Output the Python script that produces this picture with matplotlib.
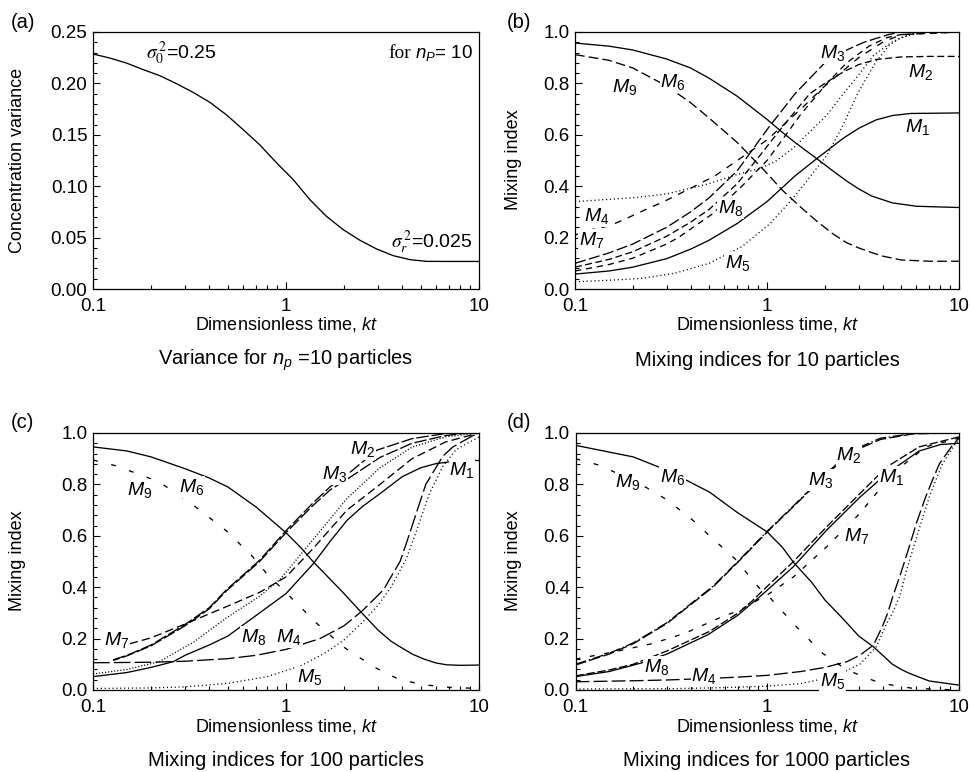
import matplotlib
matplotlib.use("Agg")
import matplotlib.pyplot as plt
from matplotlib.ticker import FixedLocator, MultipleLocator, FuncFormatter, LogLocator, NullFormatter

plt.rcParams['font.family'] = ['Liberation Sans', 'DejaVu Sans']
plt.rcParams['mathtext.fontset'] = 'custom'
plt.rcParams['mathtext.rm'] = 'Liberation Sans'
plt.rcParams['mathtext.it'] = 'Liberation Sans:italic'
plt.rcParams['mathtext.bf'] = 'Liberation Sans:bold'
plt.rcParams['lines.scale_dashes'] = False

# ---------------- data ----------------
# panel (a): concentration variance, n_P = 10
a_x = [0.1, 0.122, 0.149, 0.182, 0.222, 0.271, 0.33, 0.403, 0.49, 0.6, 0.73, 0.895, 1.09,
       1.33, 1.62, 1.98, 2.42, 2.95, 3.6, 4.4, 5.36, 7.0, 10.0]
a_var = [0.2286, 0.2247, 0.2198, 0.2134, 0.2075, 0.1997, 0.1913, 0.1816, 0.1696, 0.155,
         0.1404, 0.1226, 0.1064, 0.0869, 0.0707, 0.0577, 0.0473, 0.0389, 0.0324, 0.0285,
         0.0269, 0.0268, 0.0268]

# panel (b): 10 particles
b_M1_x = [0.1, 0.15, 0.2, 0.3, 0.4, 0.5, 0.7, 1.0, 1.4, 1.8, 2.2, 2.5, 3.0, 3.7, 4.5, 5.6, 10]
b_M1_y = [0.058, 0.070, 0.085, 0.118, 0.155, 0.19, 0.255, 0.34, 0.44, 0.505, 0.555, 0.587,
          0.625, 0.658, 0.675, 0.683, 0.685]
b_M2_x = [0.1, 0.15, 0.2, 0.3, 0.4, 0.5, 0.7, 0.92, 1.2, 1.67, 2.0, 2.5, 3.0, 3.7, 5, 7, 10]
b_M2_y = [0.085, 0.115, 0.145, 0.205, 0.26, 0.31, 0.41, 0.52, 0.63, 0.76, 0.80, 0.845, 0.873,
          0.893, 0.903, 0.905, 0.905]
b_M3_x = [0.1, 0.15, 0.2, 0.3, 0.4, 0.5, 0.7, 1.0, 1.4, 2.0, 2.6, 3.2, 3.7, 4.3, 5, 7, 10]
b_M3_y = [0.10, 0.14, 0.175, 0.24, 0.30, 0.355, 0.46, 0.62, 0.76, 0.88, 0.93, 0.96, 0.975,
          0.99, 1.0, 1.0, 1.0]
b_M4_x = [0.1, 0.2, 0.3, 0.42, 0.5, 0.68, 0.92, 1.1, 1.37, 2.05, 2.5, 3.0, 3.6, 4.5, 5.5, 6.5, 10]
b_M4_y = [0.34, 0.355, 0.37, 0.396, 0.41, 0.443, 0.47, 0.495, 0.548, 0.677, 0.76, 0.833, 0.91,
          0.962, 0.99, 1.0, 1.0]
b_M5_x = [0.1, 0.15, 0.22, 0.33, 0.5, 0.74, 1.04, 1.37, 2.05, 2.5, 3.0, 3.7, 4.3, 4.9, 6.5, 10]
b_M5_y = [0.028, 0.034, 0.041, 0.061, 0.10, 0.165, 0.255, 0.354, 0.52, 0.64, 0.768, 0.885,
          0.945, 0.977, 1.0, 1.0]
b_M6_x = [0.1, 0.15, 0.2, 0.3, 0.4, 0.5, 0.7, 1.0, 1.2, 1.4, 1.81, 2.2, 2.6, 3.0, 3.5, 4.5, 6.0, 10]
b_M6_y = [0.957, 0.945, 0.93, 0.895, 0.86, 0.82, 0.75, 0.66, 0.61, 0.57, 0.508, 0.46, 0.42,
          0.39, 0.362, 0.335, 0.322, 0.317]
b_M7_x = [0.1, 0.12, 0.15, 0.18, 0.23, 0.29, 0.42, 0.535, 0.7, 1.0, 1.5, 2.0, 3.0, 4.0, 5.0, 10]
b_M7_y = [0.21, 0.23, 0.245, 0.27, 0.307, 0.34, 0.40, 0.44, 0.50, 0.58, 0.70, 0.79, 0.90, 0.96,
          0.99, 1.0]
b_M8_x = [0.1, 0.15, 0.2, 0.3, 0.345, 0.515, 0.74, 1.0, 1.2, 1.5, 2.05, 2.6, 3.4, 4.2, 5, 10]
b_M8_y = [0.07, 0.095, 0.12, 0.175, 0.2, 0.29, 0.40, 0.50, 0.58, 0.68, 0.80, 0.88, 0.945, 0.978,
          0.99, 1.0]
b_M9_x = [0.1, 0.15, 0.2, 0.3, 0.4, 0.5, 0.7, 0.85, 1.0, 1.2, 1.5, 1.81, 2.2, 2.6, 3.0, 3.5,
          4.0, 5.0, 7.0, 10]
b_M9_y = [0.912, 0.89, 0.86, 0.79, 0.725, 0.665, 0.57, 0.505, 0.45, 0.385, 0.318, 0.265, 0.215,
          0.18, 0.16, 0.142, 0.128, 0.113, 0.108, 0.108]

# panel (c): 100 particles
c_M1_x = [0.1, 0.15, 0.2, 0.26, 0.3, 0.4, 0.5, 0.7, 1.0, 1.38, 1.7, 2.07, 2.5, 3.07, 4.0,
          5.0, 6.0, 8.0, 10]
c_M1_y = [0.052, 0.068, 0.088, 0.11, 0.135, 0.175, 0.21, 0.29, 0.375, 0.49, 0.58, 0.66, 0.715,
          0.764, 0.83, 0.865, 0.881, 0.893, 0.893]
c_M2_x = [0.127, 0.15, 0.2, 0.3, 0.4, 0.49, 0.73, 1.0, 1.38, 1.69, 2.17, 2.95, 4.5, 6.7, 10]
c_M2_y = [0.117, 0.135, 0.175, 0.255, 0.32, 0.389, 0.505, 0.62, 0.728, 0.79, 0.85, 0.933,
          0.978, 0.998, 1.0]
c_M3_x = [0.127, 0.15, 0.2, 0.3, 0.4, 0.49, 0.73, 1.0, 1.38, 1.69, 2.17, 3.07, 4.5, 6.7, 8.3, 10]
c_M3_y = [0.115, 0.133, 0.172, 0.25, 0.316, 0.385, 0.50, 0.612, 0.718, 0.778, 0.83, 0.905,
          0.96, 0.99, 0.998, 1.0]
c_M4_x = [0.1, 0.2, 0.3, 0.5, 0.7, 1.0, 1.5, 2.0, 2.5, 3.2, 3.5, 3.9, 4.2, 4.6, 5.3, 6.5,
          7.3, 9.3, 10]
c_M4_y = [0.106, 0.108, 0.112, 0.122, 0.135, 0.158, 0.2, 0.25, 0.31, 0.39, 0.44, 0.5, 0.57,
          0.66, 0.8, 0.91, 0.945, 0.99, 0.995]
c_M5_x = [0.1, 0.2, 0.3, 0.5, 0.8, 1.2, 1.6, 2.0, 2.5, 3.0, 3.5, 4.2, 4.8, 5.5, 6.5, 7.6, 10]
c_M5_y = [0.006, 0.008, 0.012, 0.026, 0.052, 0.095, 0.145, 0.195, 0.265, 0.33, 0.40, 0.51,
          0.63, 0.76, 0.87, 0.935, 0.985]
c_M6_x = [0.1, 0.15, 0.2, 0.3, 0.4, 0.5, 0.7, 1.0, 1.2, 1.38, 1.75, 2.0, 2.4, 3.0, 3.5, 3.9,
          4.5, 5.2, 6.0, 6.8, 8.0, 10]
c_M6_y = [0.946, 0.93, 0.907, 0.861, 0.825, 0.79, 0.712, 0.612, 0.552, 0.5, 0.42, 0.375, 0.31,
          0.233, 0.19, 0.168, 0.14, 0.12, 0.105, 0.098, 0.096, 0.097]
c_M7_x = [0.155, 0.2, 0.305, 0.49, 0.73, 1.0, 1.38, 2.07, 3.07, 4.5, 6.7, 10]
c_M7_y = [0.18, 0.203, 0.259, 0.324, 0.38, 0.44, 0.55, 0.70, 0.80, 0.90, 0.965, 1.0]
c_M8_x = [0.1, 0.15, 0.22, 0.33, 0.49, 0.73, 0.93, 1.38, 2.07, 3.07, 4.5, 6.7, 10]
c_M8_y = [0.062, 0.08, 0.11, 0.185, 0.28, 0.365, 0.43, 0.585, 0.745, 0.865, 0.945, 0.985, 1.0]
c_M9_x = [0.1, 0.132, 0.22, 0.33, 0.49, 0.67, 0.79, 1.05, 1.44, 1.98, 2.85, 3.9, 5.4, 7.0, 10]
c_M9_y = [0.895, 0.872, 0.81, 0.72, 0.62, 0.52, 0.455, 0.363, 0.26, 0.168, 0.09, 0.039, 0.019,
          0.01, 0.006]

# panel (d): 1000 particles
d_M1_x = [0.1, 0.15, 0.2, 0.3, 0.5, 0.7, 0.83, 0.915, 1.37, 2.04, 3.04, 4.2, 6.2, 10]
d_M1_y = [0.055, 0.078, 0.1, 0.152, 0.228, 0.298, 0.345, 0.376, 0.5, 0.635, 0.764, 0.868,
          0.946, 0.985]
d_M2_x = [0.1, 0.15, 0.2, 0.3, 0.52, 0.72, 1.0, 1.42, 2.05, 2.6, 3.04, 3.9, 5.8, 10]
d_M2_y = [0.1, 0.143, 0.183, 0.262, 0.403, 0.508, 0.618, 0.728, 0.846, 0.912, 0.945, 0.98,
          0.998, 1.0]
d_M3_x = [0.1, 0.15, 0.2, 0.3, 0.52, 0.72, 1.0, 1.42, 2.05, 2.6, 3.04, 3.9, 5.8, 10]
d_M3_y = [0.097, 0.14, 0.18, 0.259, 0.40, 0.505, 0.615, 0.725, 0.842, 0.907, 0.94, 0.975,
          0.997, 1.0]
d_M4_x = [0.1, 0.2, 0.3, 0.5, 0.7, 1.0, 1.5, 2.0, 2.6, 3.04, 3.58, 4.0, 4.25, 4.5, 5.0, 5.5,
          6.0, 6.7, 7.3, 7.9, 9.3, 10]
d_M4_y = [0.032, 0.036, 0.039, 0.045, 0.05, 0.057, 0.072, 0.088, 0.11, 0.135, 0.175, 0.25,
          0.30, 0.36, 0.46, 0.557, 0.65, 0.751, 0.82, 0.88, 0.955, 0.98]
d_M5_x = [0.1, 0.3, 0.5, 0.7, 1.0, 1.5, 2.0, 2.5, 3.04, 3.7, 4.2, 4.5, 4.9, 5.3, 5.8, 6.4,
          7.0, 7.6, 8.2, 9.6, 10]
d_M5_y = [0.004, 0.005, 0.008, 0.011, 0.015, 0.025, 0.045, 0.07, 0.10, 0.168, 0.26, 0.30,
          0.363, 0.46, 0.557, 0.66, 0.751, 0.82, 0.88, 0.96, 0.97]
d_M6_x = [0.1, 0.2, 0.3, 0.5, 0.7, 1.0, 1.2, 1.37, 1.7, 2.0, 2.5, 3.0, 3.58, 4.5, 5.0, 5.5,
          7.0, 10]
d_M6_y = [0.952, 0.907, 0.855, 0.77, 0.69, 0.615, 0.555, 0.497, 0.42, 0.35, 0.275, 0.21,
          0.168, 0.1, 0.08, 0.065, 0.035, 0.019]
d_M7_x = [0.1, 0.16, 0.25, 0.37, 0.58, 0.72, 0.83, 1.0, 1.37, 2.04, 3.04, 4.5, 6.7, 10]
d_M7_y = [0.12, 0.149, 0.18, 0.22, 0.285, 0.31, 0.337, 0.37, 0.44, 0.557, 0.687, 0.842,
          0.946, 0.98]
d_M8_x = [0.1, 0.15, 0.22, 0.3, 0.49, 0.7, 0.83, 0.915, 1.37, 2.04, 3.04, 4.2, 6.2, 8, 10]
d_M8_y = [0.052, 0.072, 0.105, 0.14, 0.215, 0.29, 0.337, 0.363, 0.48, 0.622, 0.75, 0.842,
          0.93, 0.955, 0.96]
d_M9_x = [0.1, 0.134, 0.22, 0.3, 0.41, 0.5, 0.68, 0.9, 1.03, 1.42, 1.95, 2.6, 3.9, 5.8, 10]
d_M9_y = [0.9, 0.874, 0.8, 0.74, 0.66, 0.6, 0.51, 0.4, 0.36, 0.246, 0.142, 0.078, 0.026,
          0.006, 0.0]

x_ticks = [0.1, 1, 10]
subtitles = [r'Variance for $n_p$ =10 particles', 'Mixing indices for 10 particles',
             'Mixing indices for 100 particles', 'Mixing indices for 1000 particles']
panel_tags = ['(a)', '(b)', '(c)', '(d)']

# ---------------- styles ----------------
SOLID = '-'
DOT = (0, (0.8, 2.0))
DOTF = (0, (0.8, 1.4))
styles_b = {1: SOLID, 2: (0, (5, 2.5)), 3: (0, (8, 2.5)), 4: DOT, 5: DOT, 6: SOLID,
            7: (0, (5, 5)), 8: (0, (4.5, 3.5)), 9: (0, (7, 3))}
styles_c = {1: SOLID, 2: (0, (9, 2)), 3: (4, (9, 2)), 4: (0, (12, 3)), 5: DOT, 6: SOLID,
            7: (0, (6, 3)), 8: DOTF, 9: (0, (3.5, 10))}
styles_d = {1: (0, (6, 2)), 2: (0, (8, 2, 1, 2)), 3: (0, (8, 2.5)), 4: (0, (10, 3)), 5: DOT,
            6: SOLID, 7: (0, (3.5, 7)), 8: SOLID, 9: (0, (3.5, 10))}

# label positions (axes fraction)
lab_b = {1: (0.893, 0.630), 2: (0.901, 0.844), 3: (0.672, 0.918), 4: (0.057, 0.284),
         5: (0.424, 0.101), 6: (0.255, 0.805), 7: (0.044, 0.191), 8: (0.404, 0.315), 9: (0.130, 0.786)}
lab_c = {1: (0.956, 0.856), 2: (0.699, 0.938), 3: (0.627, 0.840), 4: (0.508, 0.206),
         5: (0.560, 0.051), 6: (0.256, 0.790), 7: (0.062, 0.195), 8: (0.415, 0.206), 9: (0.122, 0.778)}
lab_d = {1: (0.823, 0.829), 2: (0.713, 0.914), 3: (0.638, 0.817), 4: (0.335, 0.054),
         5: (0.671, 0.035), 6: (0.252, 0.829), 7: (0.734, 0.599), 8: (0.212, 0.089), 9: (0.137, 0.809)}

W, H = 972, 772
fig = plt.figure(figsize=(W / 100, H / 100), dpi=100)

def add_axes(left, right, top, bottom):
    return fig.add_axes([left / W, 1 - bottom / H, (right - left) / W, (bottom - top) / H])

axA = add_axes(93, 479, 32, 289)
axB = add_axes(575, 959, 32, 289)
axC = add_axes(93, 479, 433, 690)
axD = add_axes(575.5, 959, 433, 690)

LW = 0.95

def style_axis(ax, ymax, ymajor, yminor, fmt):
    ax.set_xscale('log')
    ax.set_xlim(0.1, 10)
    ax.set_ylim(0, ymax)
    ax.xaxis.set_major_locator(FixedLocator(x_ticks))
    ax.xaxis.set_major_formatter(FuncFormatter(lambda v, p: '%g' % v))
    ax.xaxis.set_minor_locator(LogLocator(base=10, subs=[2, 3, 4, 5, 6, 7, 8, 9]))
    ax.xaxis.set_minor_formatter(NullFormatter())
    ax.yaxis.set_major_locator(MultipleLocator(ymajor))
    ax.yaxis.set_minor_locator(MultipleLocator(yminor))
    ax.yaxis.set_major_formatter(FuncFormatter(lambda v, p: fmt % v))
    ax.tick_params(which='both', direction='in', top=False, right=False, labelsize=13.5, width=0.8)
    ax.tick_params(which='major', length=5)
    ax.tick_params(which='minor', length=3)
    ax.tick_params(axis='x', pad=6.5)
    ax.tick_params(axis='y', pad=4)
    for s in ax.spines.values():
        s.set_linewidth(0.9)

style_axis(axA, 0.25, 0.05, 0.01, '%.2f')
for ax in (axB, axC, axD):
    style_axis(ax, 1.0, 0.2, 0.04, '%.1f')

# panel a
axA.plot(a_x, a_var, color='black', lw=LW)
axA.text(0.228, 0.918, r'$\sigma_0^{\,2}$=0.25', transform=axA.transAxes, fontsize=14,
         ha='center', va='center', math_fontfamily='stix')
axA.text(0.878, 0.183, r'$\sigma_r^{\,2}$=0.025', transform=axA.transAxes, fontsize=14,
         ha='center', va='center', math_fontfamily='stix')
t_np = axA.text(0.985, 0.918, r'$n_P$= 10', transform=axA.transAxes, fontsize=13.5,
                ha='right', va='center')

def draw_panel(ax, data, styles, labs):
    for k in range(1, 10):
        xs, ys = data[k]
        ax.plot(xs, ys, color='black', lw=LW, linestyle=styles[k])
    for k in range(1, 10):
        fx, fy = labs[k]
        ax.text(fx, fy, r'$M_{%d}$' % k, transform=ax.transAxes, fontsize=14,
                ha='center', va='center', zorder=5,
                bbox=dict(facecolor='white', edgecolor='none', pad=0.5))

data_b = {1: (b_M1_x, b_M1_y), 2: (b_M2_x, b_M2_y), 3: (b_M3_x, b_M3_y), 4: (b_M4_x, b_M4_y),
          5: (b_M5_x, b_M5_y), 6: (b_M6_x, b_M6_y), 7: (b_M7_x, b_M7_y), 8: (b_M8_x, b_M8_y),
          9: (b_M9_x, b_M9_y)}
data_c = {1: (c_M1_x, c_M1_y), 2: (c_M2_x, c_M2_y), 3: (c_M3_x, c_M3_y), 4: (c_M4_x, c_M4_y),
          5: (c_M5_x, c_M5_y), 6: (c_M6_x, c_M6_y), 7: (c_M7_x, c_M7_y), 8: (c_M8_x, c_M8_y),
          9: (c_M9_x, c_M9_y)}
data_d = {1: (d_M1_x, d_M1_y), 2: (d_M2_x, d_M2_y), 3: (d_M3_x, d_M3_y), 4: (d_M4_x, d_M4_y),
          5: (d_M5_x, d_M5_y), 6: (d_M6_x, d_M6_y), 7: (d_M7_x, d_M7_y), 8: (d_M8_x, d_M8_y),
          9: (d_M9_x, d_M9_y)}

draw_panel(axB, data_b, styles_b, lab_b)
draw_panel(axC, data_c, styles_c, lab_c)
draw_panel(axD, data_d, styles_d, lab_d)

# figure-level texts (pixel positions converted to fractions)
def ftext(x, y, s, **kw):
    fig.text(x / W, 1 - y / H, s, **kw)

for (cx, row_off) in [(286, 0), (767, 0), (286, 401), (767, 401)]:
    ftext(cx, 325 + row_off, r'Dimensionless time, $kt$', fontsize=13, ha='center', va='center')

ftext(18, 160, 'Concentration variance', fontsize=13, rotation=90, ha='center', va='center')
ftext(513, 160, 'Mixing index', fontsize=13, rotation=90, ha='center', va='center')
ftext(18, 561, 'Mixing index', fontsize=13, rotation=90, ha='center', va='center')
ftext(513, 561, 'Mixing index', fontsize=13, rotation=90, ha='center', va='center')

ftext(286, 360, subtitles[0], fontsize=14.5, ha='center', va='center')
ftext(767, 360, subtitles[1], fontsize=14.5, ha='center', va='center')
ftext(286, 760, subtitles[2], fontsize=14.5, ha='center', va='center')
ftext(767, 760, subtitles[3], fontsize=14.5, ha='center', va='center')

ftext(23, 22, panel_tags[0], fontsize=14.5, ha='center', va='center')
ftext(519, 22, panel_tags[1], fontsize=14.5, ha='center', va='center')
ftext(22, 423, panel_tags[2], fontsize=14.5, ha='center', va='center')
ftext(519, 423, panel_tags[3], fontsize=14.5, ha='center', va='center')

# serif "for" placed just left of the n_P text
fig.canvas.draw()
bb = t_np.get_window_extent(renderer=fig.canvas.get_renderer())
inv = axA.transAxes.inverted()
lx, _ = inv.transform((bb.x0 - 4, 0))
axA.text(lx, 0.918, 'for', transform=axA.transAxes, fontsize=14, ha='right', va='center',
         family='Liberation Serif')

fig.savefig('out.png', dpi=100)
